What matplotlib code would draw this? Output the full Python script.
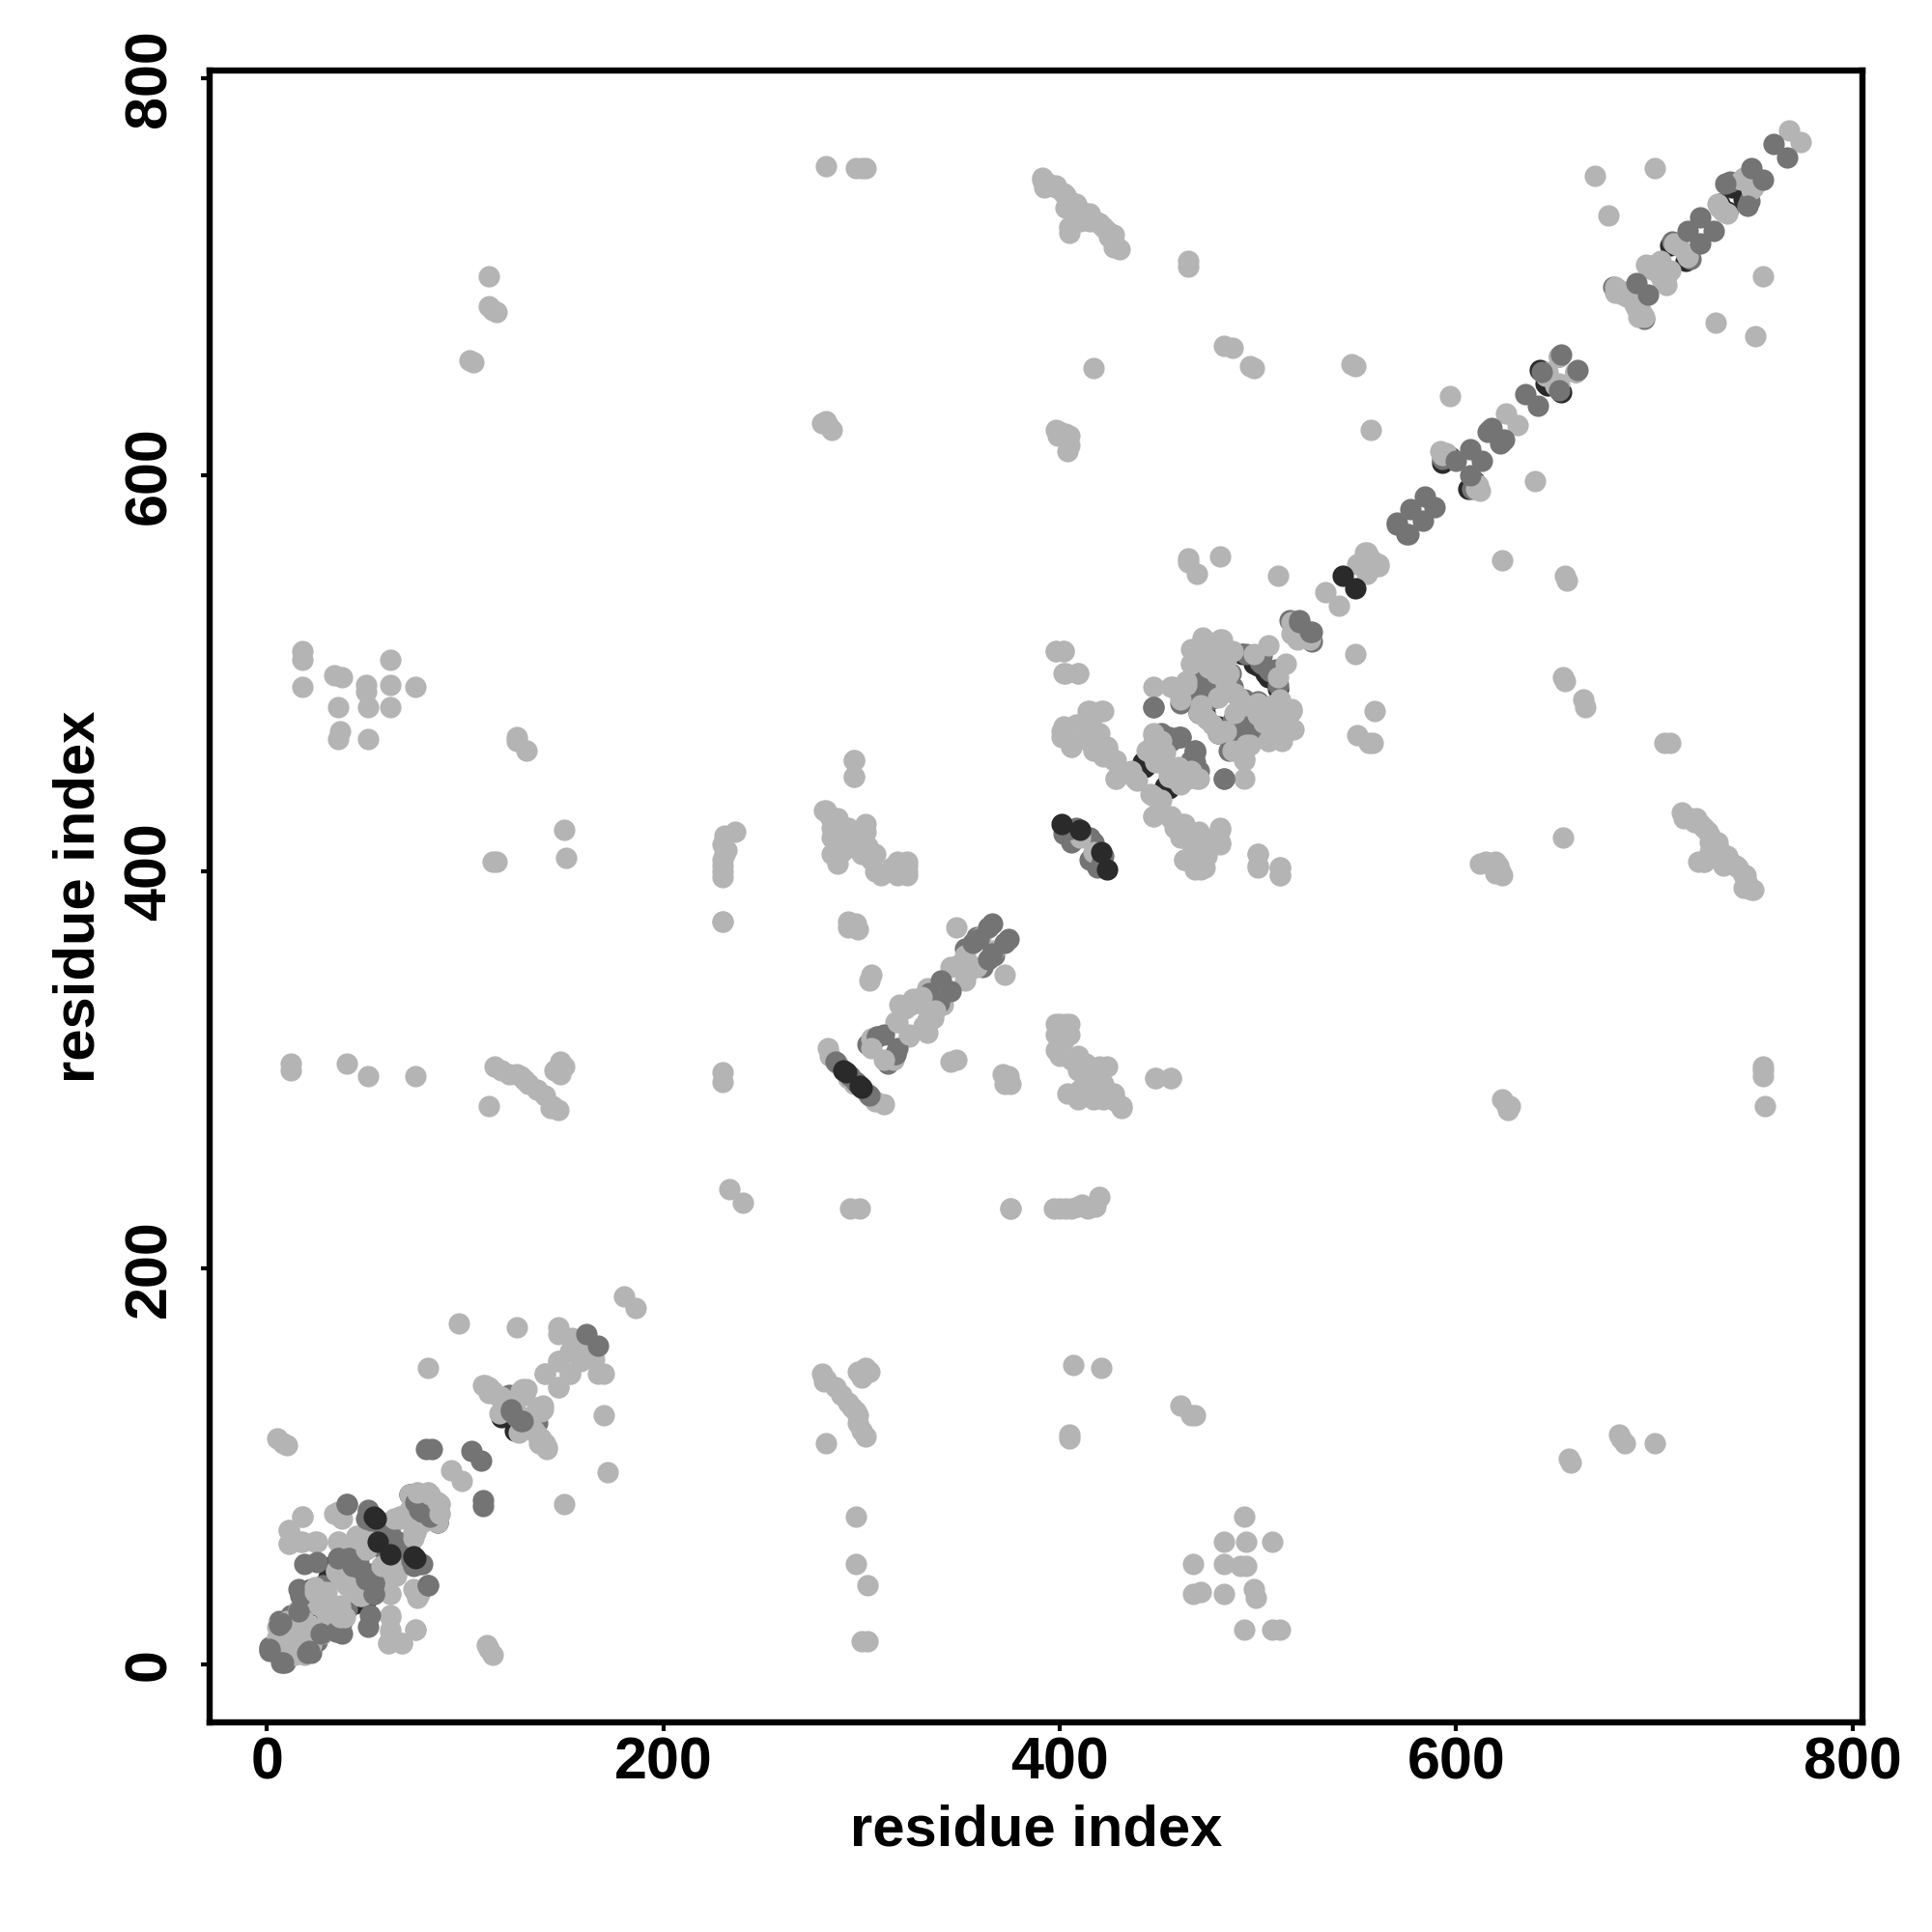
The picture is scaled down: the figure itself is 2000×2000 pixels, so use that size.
import matplotlib
matplotlib.use("Agg")
import matplotlib.pyplot as plt

# contact map is symmetric, so each contact is listed once and mirrored when drawn
under_dark = [(118, 125), (72, 86), (74, 66), (69, 55), (50, 33), (38, 22), (44, 31), (18, 36),
              (36, 17), (27, 16), (25, 30), (642, 653), (646, 645), (597, 609), (593, 606), (733, 737), (739, 745), (716, 708),
              (442, 455), (453, 443), (455, 446), (463, 452), (510, 492), (500, 504), (505, 498), (473, 480), (480, 470)]

under_mid = [(1, 9), (6, 22), (12, 25), (16, 38), (18, 32), (28, 40), (30, 33), (41, 47), (44, 37), (46, 52), (58, 68),
             (61, 72), (66, 62), (119, 133), (122, 136), (126, 125), (570, 575), (652, 660), (709, 718), (679, 695),
             (470, 499), (471, 509), (449, 462), (451, 470), (456, 466), (478, 493), (487, 476), (490, 470), (500, 486),
             (408, 422), (415, 417), (419, 402), (404, 420), (415, 406), (505, 502), (502, 509), (516, 527), (303, 313),
             (352, 361), (358, 367), (593, 608), (738, 748), (492, 472), (501, 506)]

light = [(97, 172), (81, 150), (126, 170), (180, 186), (147, 170), (147, 167), (154, 165), (153, 158), (155, 161), (158, 163),
         (147, 153), (153, 147), (140, 147), (147, 140), (110, 141), (112, 140), (114, 138), (116, 136), (118, 135), (120, 133),
         (122, 131), (125, 129), (109, 141), (112, 137), (129, 139), (131, 139), (130, 136), (128, 138), (132, 120), (127, 117),
         (93, 98), (76, 86), (80, 86), (72, 86), (81, 87), (76, 87), (72, 78), (67, 74), (64, 74), (68, 75), (67, 75), (75, 67),
         (70, 75), (36, 77), (34, 76), (38, 74), (18, 75), (11, 68), (11, 61), (18, 62), (25, 62), (36, 62), (45, 65), (48, 62),
         (47, 58), (50, 66), (62, 36), (62, 24), (62, 17), (61, 11), (68, 11), (75, 18), (75, 37), (60, 46), (65, 46),
         (35, 47), (37, 44), (40, 40), (45, 38), (48, 35), (38, 50), (25, 33), (30, 37),
         (16, 28), (19, 22), (33, 27), (37, 28), (26, 30), (11, 17), (7, 12), (13, 14), (5, 19), (14, 5),
         (19, 10), (10, 22), (23, 16), (17, 12), (12, 8), (5, 114), (8, 112), (10, 111),
         (12, 303), (12, 300), (40, 303), (51, 297), (75, 297), (115, 302), (118, 300), (122, 298), (128, 297), (132, 293),
         (136, 290), (140, 287), (144, 282), (147, 280), (112, 282), (148, 304), (145, 300), (150, 302), (148, 298), (143, 281),
         (126, 298), (130, 295), (116, 405), (114, 405), (150, 421), (151, 407), (126, 468), (126, 466), (131, 461),
         (18, 511), (18, 507), (18, 493), (34, 499), (38, 498), (50, 494), (50, 491), (36, 483), (51, 483), (62, 483), (62, 494),
         (62, 507), (75, 493), (37, 471), (36, 467), (51, 467), (112, 700), (112, 685), (116, 682), (114, 683), (104, 657), (102, 658),
         (233, 240), (230, 375), (230, 294), (230, 299), (397, 230), (400, 230), (403, 230), (406, 230), (409, 231), (411, 232),
         (414, 230), (418, 231), (420, 236), (375, 230), (282, 756), (297, 755), (300, 755), (302, 755), (280, 626), (283, 625),
         (285, 623), (282, 627), (296, 456), (296, 448), (293, 375), (297, 374), (298, 371), (293, 372), (295, 373), (305, 348), (304, 345),
         (398, 323), (403, 323), (405, 323), (398, 318), (405, 318), (398, 310), (400, 307), (406, 305), (409, 307), (404, 288),
         (408, 287), (413, 303), (418, 296), (420, 302), (424, 302), (422, 293), (415, 293), (422, 285), (428, 284), (431, 282),
         (409, 285), (410, 290), (413, 296), (417, 298), (409, 300), (402, 315), (403, 320), (400, 323), (412, 292), (417, 285),
         (414, 300), (431, 281), (427, 288), (424, 289), (448, 296), (456, 296),
         (391, 749), (394, 747), (398, 745), (403, 741), (405, 738), (408, 736), (411, 733), (405, 725), (415, 728), (420, 727),
         (424, 723), (427, 721), (430, 714), (427, 718), (465, 708), (465, 705), (417, 654), (483, 665), (487, 664), (496, 655),
         (498, 654), (398, 623), (403, 621), (405, 615), (405, 620), (400, 622), (404, 612), (399, 620), (547, 656), (549, 655),
         (557, 623), (465, 558), (465, 556), (469, 550), (481, 559), (510, 549), (597, 640), (670, 751), (677, 731), (700, 755),
         (715, 427), (720, 425), (725, 422), (725, 405), (722, 405), (732, 415), (737, 408), (742, 402), (746, 398), (750, 391),
         (728, 410), (735, 403), (728, 418), (745, 392), (398, 511), (402, 511), (402, 500), (409, 500),
         (447, 493), (428, 447), (436, 450), (439, 446), (447, 438), (451, 436), (447, 428),
         (456, 428), (462, 424), (470, 420), (481, 421), (481, 415), (474, 410), (463, 406), (468, 402), (473, 402), (461, 417),
         (467, 412), (472, 416), (414, 481), (422, 481), (401, 471), (401, 468), (406, 463), (408, 474), (417, 472), (417, 462),
         (424, 463), (427, 456), (422, 458), (412, 475), (500, 409), (500, 403), (511, 402), (511, 398), (410, 417),
         (283, 311), (296, 293), (288, 303), (305, 316), (307, 316), (317, 324), (319, 333), (325, 333), (328, 334), (333, 341),
         (345, 352), (349, 353), (348, 372), (360, 367), (352, 358), (284, 307), (322, 331),
         (517, 526), (518, 524), (520, 517), (534, 541), (555, 561), (550, 555), (556, 559), (553, 557), (561, 554), (625, 631),
         (595, 611), (593, 610), (612, 592), (645, 650), (646, 652), (652, 660), (696, 706), (698, 704), (700, 706), (702, 705),
         (700, 703), (703, 708), (706, 702), (680, 695), (681, 694), (683, 693), (684, 691), (680, 692), (686, 690), (710, 717),
         (712, 716), (732, 737), (733, 735), (745, 750), (744, 749), (768, 774)]

mid = [(161, 167), (123, 129), (123, 128), (83, 109), (80, 109), (103, 108), (75, 82), (78, 77), (40, 81), (51, 77), (54, 68),
       (19, 51), (25, 52), (55, 60), (55, 65), (41, 54), (43, 50), (41, 54), (36, 54), (54, 36), (17, 37), (16, 27), (35, 17), (1, 7),
       (7, 21), (6, 20), (8, 1), (74, 50), (78, 51), (81, 40), (447, 483), (483, 447), (521, 527), (521, 526), (460, 468), (461, 468),
       (455, 468), (468, 461), (461, 485), (487, 493), (510, 494), (404, 421), (653, 661), (643, 652),
       (635, 641), (617, 623), (618, 624), (616, 622), (607, 613), (600, 607), (584, 589), (577, 583), (570, 576), (691, 697),
       (717, 723), (723, 730), (736, 747), (749, 755), (760, 767), (287, 304), (294, 297), (308, 317), (311, 318), (317, 308),
       (334, 339), (340, 345), (356, 364), (364, 372), (366, 374), (359, 366)]

# light contacts that sit over the mid greys
light_top = [(24, 37), (28, 35), (36, 25), (39, 24), (63, 48), (58, 50), (62, 52), (82, 86), (87, 76), (87, 81),
             (505, 514), (472, 517), (482, 517), (466, 512), (466, 505), (479, 502), (484, 507), (464, 494), (457, 493),
             (471, 484), (474, 477), (483, 471), (487, 461), (493, 456), (496, 464), (517, 481), (518, 472), (511, 487),
             (511, 468), (505, 466), (494, 484), (500, 479), (510, 498), (475, 510), (470, 513), (478, 505), (485, 500),
             (490, 488), (503, 475), (508, 478), (480, 470), (488, 480), (447, 469), (444, 461), (447, 458), (470, 447),
             (455, 448), (461, 445), (466, 451), (450, 455), (447, 465), (453, 460), (458, 452), (326, 336), (330, 337),
             (311, 305), (324, 318)]

dark = [(54, 75), (56, 62), (55, 74), (401, 424), (410, 421), (543, 549), (291, 300), (292, 299)]

light_color = "#b4b4b4"
mid_color = "#747474"
dark_color = "#2a2a2a"
axis_ticks = [0, 200, 400, 600, 800]

plt.rcParams["font.family"] = ["Liberation Sans", "DejaVu Sans"]
plt.rcParams["font.weight"] = "bold"

fig = plt.figure(figsize=(20, 20), dpi=100)
ax = fig.add_axes([217 / 2000, 1 - 1783 / 2000, (1928 - 217) / 2000, (1783 - 73) / 2000])


def draw(pairs, color):
    i = [p[0] for p in pairs]
    j = [p[1] for p in pairs]
    ax.scatter(i + j, j + i, s=255, c=color, linewidths=0, clip_on=False)


draw(under_dark, dark_color)
draw(under_mid, mid_color)
draw(light, light_color)
draw(mid, mid_color)
draw(light_top, light_color)
draw(dark, dark_color)

ax.set_xlim(-29, 805)
ax.set_ylim(-29, 804)
ax.set_xticks(axis_ticks)
ax.set_yticks(axis_ticks)
ax.tick_params(axis="x", length=6.5, width=3, labelsize=44, pad=4)
ax.tick_params(axis="y", length=6.5, width=3, labelsize=44, pad=17)
for label in ax.get_yticklabels():
    label.set_rotation(90)
    label.set_va("center")
for side in ax.spines.values():
    side.set_linewidth(4.6)

ax.set_xlabel("residue index", fontsize=43, fontweight="bold", labelpad=9)
ax.set_ylabel("residue index", fontsize=43, fontweight="bold", labelpad=13)

fig.savefig("out.png", dpi=100, facecolor="white")
